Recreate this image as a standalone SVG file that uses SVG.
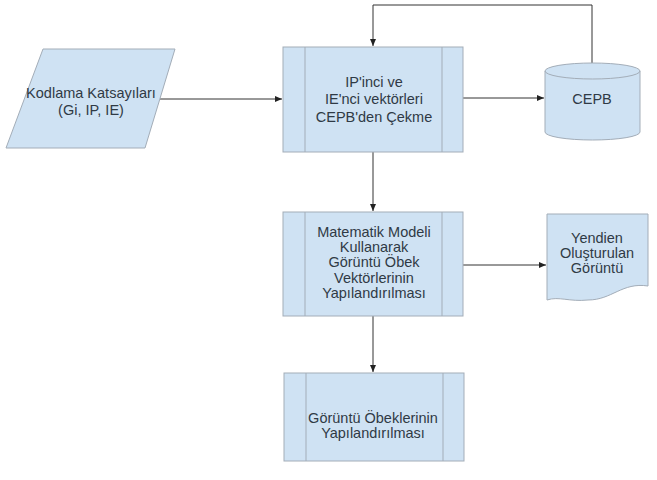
<svg xmlns="http://www.w3.org/2000/svg" width="657" height="480" viewBox="0 0 657 480">
<style>
.s{fill:#cfe2f3;stroke:#a3adb8;stroke-width:1}
.d{fill:none;stroke:#a3adb8;stroke-width:1}
.t{font-family:"Liberation Sans",Arial,sans-serif;font-size:14.5px;fill:#2f3a45;text-anchor:middle}
.c{fill:none;stroke:#333;stroke-width:1}
</style>
<defs>
<marker id="a" markerWidth="8" markerHeight="8" refX="7" refY="4" orient="auto" markerUnits="userSpaceOnUse">
<path d="M0,1 L7,4 L0,7 Z" fill="#222"/>
</marker>
</defs>
<rect width="657" height="480" fill="#fff"/>
<g id="connectors">
<path class="c" d="M160,99 H282" marker-end="url(#a)"/>
<path class="c" d="M592,63 V5 H373 V46" marker-end="url(#a)"/>
<path class="c" d="M463,98 H544" marker-end="url(#a)"/>
<path class="c" d="M373,152 V211" marker-end="url(#a)"/>
<path class="c" d="M463,265 H546" marker-end="url(#a)"/>
<path class="c" d="M373,316 V372" marker-end="url(#a)"/>
</g>
<g id="input">
<path class="s" d="M43,49 H175 L145,148 H6 Z"/>
<text class="t" x="91" y="98">Kodlama Katsayıları</text>
<text class="t" x="91" y="115">(Gi, IP, IE)</text>
</g>
<g id="process1">
<rect class="s" x="283" y="47" width="180" height="105"/>
<path class="d" d="M305,47 V152 M442,47 V152"/>
<text class="t" x="374" y="87">IP'inci ve</text>
<text class="t" x="374" y="104">IE'nci vektörleri</text>
<text class="t" x="374" y="122">CEPB'den Çekme</text>
</g>
<g id="cepb">
<path class="s" d="M545,71 V132 A47.5,8 0 0 0 640,132 V71 A47.5,8 0 0 0 545,71 Z"/>
<path class="d" d="M545,71 A47.5,8 0 0 0 640,71"/>
<text class="t" x="592" y="104">CEPB</text>
</g>
<g id="process2">
<rect class="s" x="283" y="212" width="180" height="104"/>
<path class="d" d="M305,212 V316 M442,212 V316"/>
<text class="t" x="374" y="237">Matematik Modeli</text>
<text class="t" x="374" y="252">Kullanarak</text>
<text class="t" x="374" y="267">Görüntü Öbek</text>
<text class="t" x="374" y="283">Vektörlerinin</text>
<text class="t" x="374" y="298">Yapılandırılması</text>
</g>
<g id="document">
<path class="s" d="M547,214 H648 V286 C622,282 612,300 588,300 C569,302 559,296 547,300 Z"/>
<text class="t" x="597" y="243">Yendien</text>
<text class="t" x="597" y="258">Oluşturulan</text>
<text class="t" x="597" y="273">Görüntü</text>
</g>
<g id="process3">
<rect class="s" x="284" y="373" width="180" height="88"/>
<path class="d" d="M306,373 V461 M443,373 V461"/>
<text class="t" x="373" y="423">Görüntü Öbeklerinin</text>
<text class="t" x="373" y="438">Yapılandırılması</text>
</g>
</svg>
